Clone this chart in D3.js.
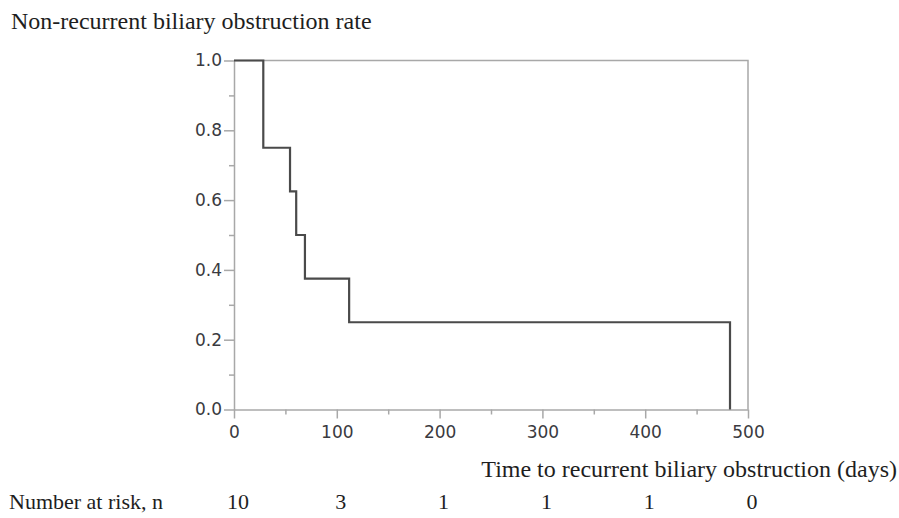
<!DOCTYPE html>
<html>
<head>
<meta charset="utf-8">
<script src="https://cdn.jsdelivr.net/npm/d3@7"></script>
<style>
  body { margin: 0; background: #fff; }
  .serif { font-family: "Liberation Serif", "DejaVu Serif", serif; fill: #1e1e1e; }
  .tick text { font-family: "DejaVu Sans", sans-serif; fill: #3a3a40; }
</style>
</head>
<body>
<svg id="chart" width="899" height="518"></svg>
<script>
// Kaplan-Meier steps
const eventDays = [0, 28.5, 54.5, 60.5, 69, 112, 482.5];
const survival = [1.0, 0.75, 0.625, 0.5, 0.375, 0.25, 0.0];

const xTicks = [0, 100, 200, 300, 400, 500];
const xMinor = [50, 150, 250, 350, 450];
const yTicks = [0, 0.2, 0.4, 0.6, 0.8, 1.0];
const yMinor = [0.1, 0.3, 0.5, 0.7, 0.9];

const riskDays = [0, 100, 200, 300, 400, 500];
const riskCounts = [10, 3, 1, 1, 1, 0];

const svg = d3.select('#chart');
const axisColor = '#a8a8a8';

const x = d3.scaleLinear().domain([0, 500]).range([234, 748]);
const y = d3.scaleLinear().domain([0, 1]).range([409.5, 60.5]);

// minor ticks first so majors draw over
svg.append('g')
  .attr('transform', `translate(0,${y(0)})`)
  .call(d3.axisBottom(x).tickValues(xMinor).tickSize(5).tickFormat(''))
  .call(g => g.select('.domain').remove());
svg.append('g')
  .attr('transform', `translate(${x(0)},0)`)
  .call(d3.axisLeft(y).tickValues(yMinor).tickSize(5).tickFormat(''))
  .call(g => g.select('.domain').remove());

svg.append('g')
  .attr('transform', `translate(0,${y(0)})`)
  .call(d3.axisBottom(x).tickValues(xTicks).tickSize(9).tickPadding(7).tickSizeOuter(0));
svg.append('g')
  .attr('transform', `translate(${x(0)},0)`)
  .call(d3.axisLeft(y).tickValues(yTicks).tickSize(10).tickPadding(2).tickSizeOuter(0)
    .tickFormat(d3.format('.1f')));

svg.selectAll('.tick line').attr('stroke', axisColor).attr('stroke-width', 1.5);
svg.selectAll('.domain').attr('stroke', axisColor).attr('stroke-width', 1.5);
svg.selectAll('.tick text').attr('font-size', 17);

// top and right frame
svg.append('path')
  .attr('d', `M${x(0)},${y(1)}H${x(500)}V${y(0)}`)
  .attr('fill', 'none')
  .attr('stroke', axisColor)
  .attr('stroke-width', 1.5);

// survival curve
const pts = eventDays.map((d, i) => [d, survival[i]]);
svg.append('path')
  .datum(pts)
  .attr('fill', 'none')
  .attr('stroke', '#4a4a4a')
  .attr('stroke-width', 2.2)
  .attr('d', d3.line().x(d => x(d[0])).y(d => y(d[1])).curve(d3.curveStepAfter));

// titles
svg.append('text')
  .attr('class', 'serif')
  .attr('x', 11)
  .attr('y', 29)
  .attr('font-size', 24)
  .text('Non-recurrent biliary obstruction rate');

svg.append('text')
  .attr('class', 'serif')
  .attr('x', 897)
  .attr('y', 477)
  .attr('text-anchor', 'end')
  .attr('font-size', 24)
  .text('Time to recurrent biliary obstruction (days)');

// number at risk
svg.append('text')
  .attr('class', 'serif')
  .attr('x', 9)
  .attr('y', 509)
  .attr('font-size', 22)
  .text('Number at risk, n');

svg.append('g').selectAll('text')
  .data(riskDays)
  .join('text')
  .attr('class', 'serif')
  .attr('x', d => x(d) + 4)
  .attr('y', 509)
  .attr('text-anchor', 'middle')
  .attr('font-size', 22)
  .text((d, i) => riskCounts[i]);
</script>
</body>
</html>
